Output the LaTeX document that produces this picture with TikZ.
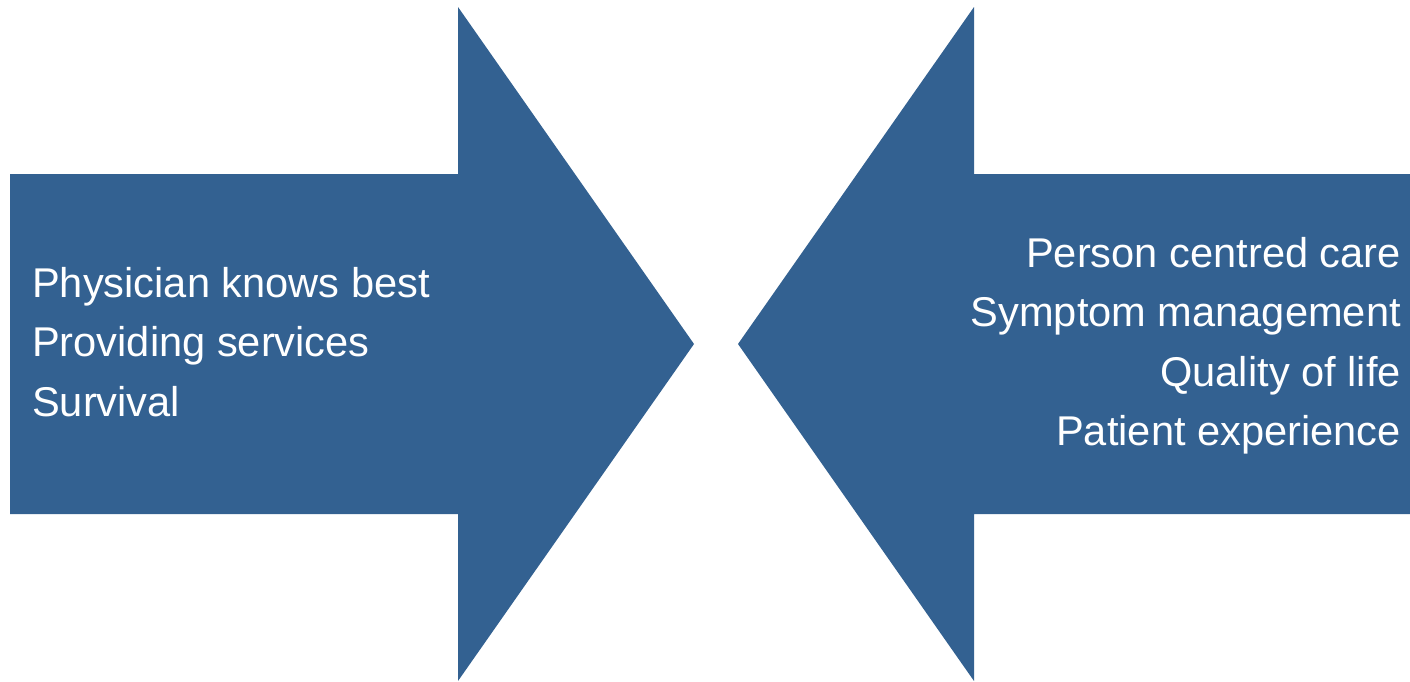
\documentclass[tikz,border=0pt]{standalone}
\usepackage{fontspec}
\setmainfont{Liberation Sans}
\definecolor{arrowblue}{RGB}{51,97,145}
\begin{document}
\begin{tikzpicture}[x=1pt,y=-1pt,
  arrowshape/.style={fill=arrowblue,draw=none},
  lbl/.style={text=white,inner sep=0pt,font=\fontsize{41.6}{59.7}\selectfont}]
\useasboundingbox (0,0) rectangle (1410,681);
% left arrow
\path[arrowshape] (10,174) -- (458,174) -- (458,7) -- (694,344) -- (458,681) -- (458,514) -- (10,514) -- cycle;
% right arrow
\path[arrowshape] (1410,174) -- (974,174) -- (974,7) -- (738,344) -- (974,681) -- (974,514) -- (1410,514) -- cycle;
% left text
\node[lbl,anchor=base west] (l1) at (32,297) {Physician knows best};
\node[lbl,anchor=base west] (l2) at (32,356.5) {Providing services};
\node[lbl,anchor=base west] (l3) at (32,416) {Survival};
% right text
\node[lbl,anchor=base east] (r1) at (1401,267) {Person centred care};
\node[lbl,anchor=base east] (r2) at (1401,326.5) {Symptom management};
\node[lbl,anchor=base east] (r3) at (1401,386) {Quality of life};
\node[lbl,anchor=base east] (r4) at (1401,445.5) {Patient experience};
\end{tikzpicture}
\end{document}
